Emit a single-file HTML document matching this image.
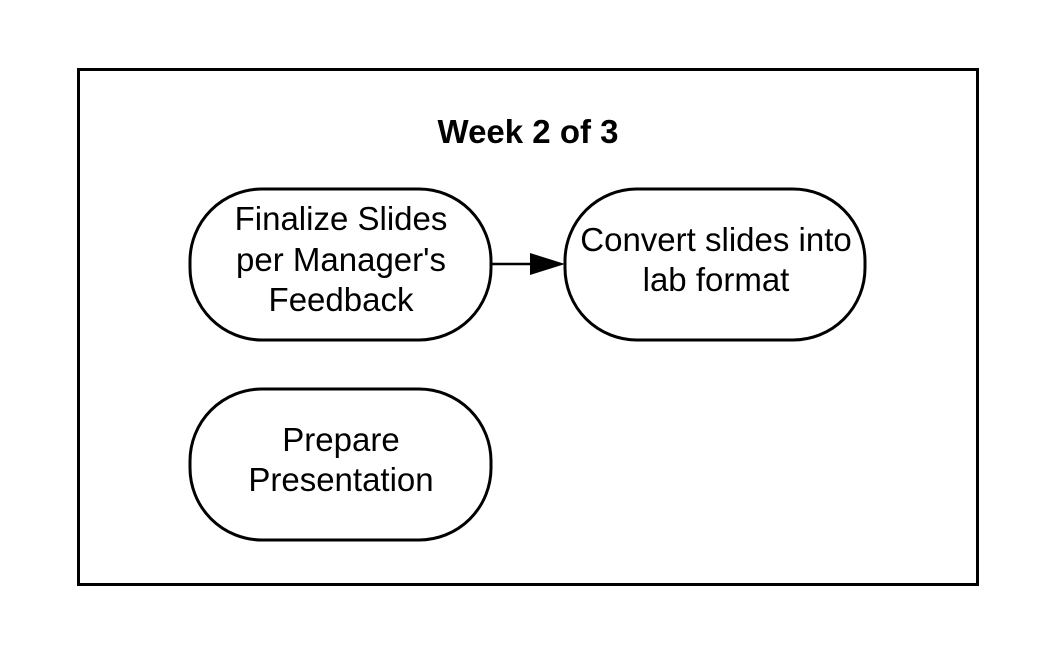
<!DOCTYPE html>
<html><head><style>html,body{margin:0;padding:0;background:#fff;}</style></head>
<body>
<svg width="1046" height="653" viewBox="0 0 1046 653" xmlns="http://www.w3.org/2000/svg" font-family="Liberation Sans, Arial, sans-serif">
<rect x="78.5" y="69.5" width="899" height="515" fill="none" stroke="#000" stroke-width="3"/>
<text x="528" y="143" text-anchor="middle" font-size="33" font-weight="bold">Week 2 of 3</text>
<rect x="190" y="189" width="301" height="151" rx="72" ry="72" fill="#fff" stroke="#000" stroke-width="3"/>
<rect x="565" y="189" width="300" height="151" rx="72" ry="72" fill="#fff" stroke="#000" stroke-width="3"/>
<rect x="190" y="389" width="301" height="151" rx="72" ry="72" fill="#fff" stroke="#000" stroke-width="3"/>
<line x1="492" y1="264" x2="532" y2="264" stroke="#000" stroke-width="2.5"/>
<polygon points="530,253 565,264 530,275" fill="#000"/>
<g font-size="33" text-anchor="middle">
<text x="341" y="230">Finalize Slides</text>
<text x="341" y="271">per Manager's</text>
<text x="341" y="311">Feedback</text>
<text x="716" y="251">Convert slides into</text>
<text x="716" y="291">lab format</text>
<text x="341" y="451">Prepare</text>
<text x="341" y="491">Presentation</text>
</g>
</svg>
</body></html>
